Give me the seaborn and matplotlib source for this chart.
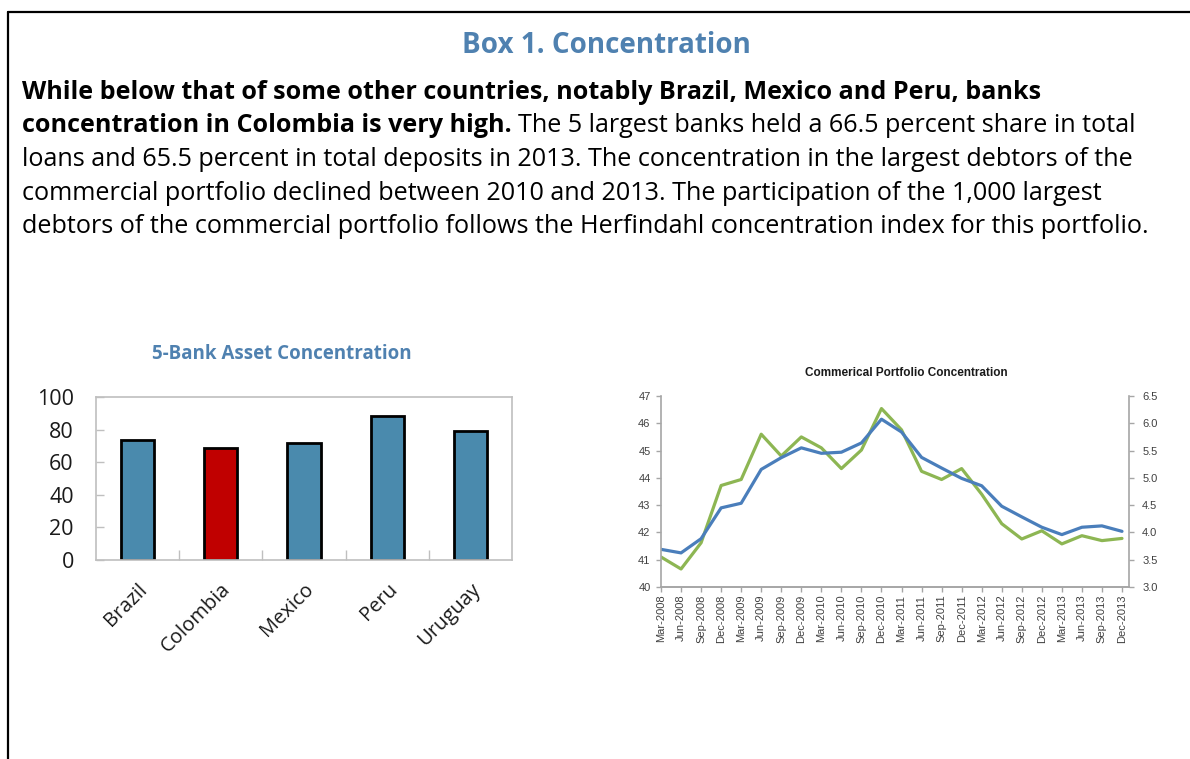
import pandas as pd
import seaborn as sns
import matplotlib.pyplot as plt
from matplotlib.lines import Line2D
from matplotlib.ticker import FormatStrFormatter, FixedLocator

# ------------------------------------------------------------------
# Data
# ------------------------------------------------------------------
countries = ['Brazil', 'Colombia', 'Mexico', 'Peru', 'Uruguay']
bank_conc = [73.6, 68.6, 71.5, 88.5, 79.1]
bar_colors = ['#4a8aad', '#c00000', '#4a8aad', '#4a8aad', '#4a8aad']

quarters = ['Mar-2008', 'Jun-2008', 'Sep-2008', 'Dec-2008',
            'Mar-2009', 'Jun-2009', 'Sep-2009', 'Dec-2009',
            'Mar-2010', 'Jun-2010', 'Sep-2010', 'Dec-2010',
            'Mar-2011', 'Jun-2011', 'Sep-2011', 'Dec-2011',
            'Mar-2012', 'Jun-2012', 'Sep-2012', 'Dec-2012',
            'Mar-2013', 'Jun-2013', 'Sep-2013', 'Dec-2013']
# left axis (blue): participation of the 1,000 largest debtors
top_debtors = [41.38, 41.25, 41.77, 42.90, 43.07, 44.31, 44.74, 45.10,
               44.90, 44.94, 45.28, 46.15, 45.68, 44.75, 44.36, 43.98,
               43.71, 42.96, 42.57, 42.19, 41.92, 42.19, 42.24, 42.04]
# right axis (green): Herfindahl index
herfindahl = [3.55, 3.33, 3.81, 4.86, 4.97, 5.80, 5.40, 5.75,
              5.55, 5.17, 5.51, 6.27, 5.88, 5.12, 4.97, 5.17,
              4.70, 4.16, 3.88, 4.03, 3.79, 3.94, 3.85, 3.89]

title = 'Box 1. Concentration'
para_bold_1 = 'While below that of some other countries, notably Brazil, Mexico and Peru, banks'
para_bold_2 = 'concentration in Colombia is very high.'
para_rest_2 = 'The 5 largest banks held a 66.5 percent share in total'
para_lines = ['loans and 65.5 percent in total deposits in 2013. The concentration in the largest debtors of the',
              'commercial portfolio declined between 2010 and 2013. The participation of the 1,000 largest',
              'debtors of the commercial portfolio follows the Herfindahl concentration index for this portfolio.']

W, H = 1190, 759
sns.set_style('white')
plt.rcParams['font.family'] = ['Open Sans', 'DejaVu Sans']

fig = plt.figure(figsize=(W / 100, H / 100), dpi=100)


def ftext(x, y, s, **kw):
    # x, y in pixels measured from top-left
    return fig.text(x / W, 1 - y / H, s, **kw)


# frame lines of the box
fig.add_artist(Line2D([8 / W, 8 / W], [0, 1 - 12 / H], color='black', lw=1.6,
                      transform=fig.transFigure))
fig.add_artist(Line2D([8 / W, 1], [1 - 12 / H, 1 - 12 / H], color='black', lw=1.6,
                      transform=fig.transFigure))

# ------------------------------------------------------------------
# Header text
# ------------------------------------------------------------------
ftext(606, 53, title, ha='center', va='baseline', fontsize=20,
      weight='bold', color='#4f81b0')

para_size = 18.1
ftext(22, 99, para_bold_1, va='baseline', fontsize=para_size, weight='bold',
      color='black')
t_b = ftext(22, 132, para_bold_2, va='baseline', fontsize=para_size, weight='bold',
            color='black')
fig.canvas.draw()
bb = t_b.get_window_extent()
fig.text((bb.x1 + 6) / W, 1 - 132 / H, para_rest_2, va='baseline',
         fontsize=para_size, color='black')
for i, line in enumerate(para_lines):
    ftext(22, 166 + i * 33.5, line, va='baseline', fontsize=para_size, color='black')

# ------------------------------------------------------------------
# Left panel: 5-bank asset concentration
# ------------------------------------------------------------------
bar_df = pd.DataFrame({'country': countries, 'value': bank_conc})
ax1 = fig.add_axes([96 / W, 1 - 560 / H, 416 / W, 163 / H])
sns.barplot(data=bar_df, x='country', y='value', hue='country',
            palette=dict(zip(countries, bar_colors)), edgecolor='black',
            linewidth=2, width=0.4, legend=False, saturation=1, ax=ax1)
ax1.set_ylim(0, 100)
ax1.set_xlim(-0.5, 4.5)
ax1.set_yticks([0, 20, 40, 60, 80, 100])
ax1.set_xlabel('')
ax1.set_ylabel('')
for s in ax1.spines.values():
    s.set_color('#bfbfbf')
    s.set_linewidth(1.2)
ax1.tick_params(axis='y', direction='in', length=6, width=1, color='#bfbfbf',
                labelsize=15.5, pad=16, labelcolor='#1a1a1a', left=True)
ax1.set_xticks(range(len(countries)))
ax1.set_xticklabels(countries, rotation=45, ha='right', rotation_mode='anchor')
ax1.tick_params(axis='x', length=0, labelsize=14.5, pad=14, labelcolor='#1a1a1a')
ax1.xaxis.set_minor_locator(FixedLocator([0.5, 1.5, 2.5, 3.5]))
ax1.tick_params(axis='x', which='minor', direction='in', length=7, width=1,
                color='#bfbfbf', bottom=True)
ftext(282, 359, '5-Bank Asset Concentration', ha='center', va='baseline',
      fontsize=13.5, weight='bold', color='#4f81b0')

# ------------------------------------------------------------------
# Right panel: commercial portfolio concentration
# ------------------------------------------------------------------
line_df = pd.DataFrame({'pos': range(len(quarters)), 'quarter': quarters,
                        'debtors': top_debtors, 'hhi': herfindahl})
arial = ['Liberation Sans', 'DejaVu Sans']
tick_col = '#404040'
spine_col = '#a6a6a6'

ax2 = fig.add_axes([661 / W, 1 - 587 / H, 468 / W, 191 / H])
ax3 = ax2.twinx()
sns.lineplot(data=line_df, x='pos', y='debtors', color='#4a7ebb', lw=2.3, ax=ax2)
sns.lineplot(data=line_df, x='pos', y='hhi', color='#8db653', lw=2.3, ax=ax3)
ax2.set_zorder(ax3.get_zorder() + 1)
ax2.patch.set_visible(False)

ax2.set_xlim(0, 23.35)
ax2.set_ylim(40, 47)
ax3.set_ylim(3.0, 6.5)
ax2.set_yticks(range(40, 48))
ax3.set_yticks([3.0, 3.5, 4.0, 4.5, 5.0, 5.5, 6.0, 6.5])
ax3.yaxis.set_major_formatter(FormatStrFormatter('%.1f'))
ax2.set_xticks(range(len(quarters)))
ax2.set_xticklabels(quarters, rotation=90, family=arial)
for a in (ax2, ax3):
    a.set_xlabel('')
    a.set_ylabel('')
    a.spines['top'].set_visible(False)
    for s in a.spines.values():
        s.set_color(spine_col)
        s.set_linewidth(1.2)
    a.tick_params(direction='out', length=3.5, width=1, color=spine_col,
                  labelsize=8, labelcolor=tick_col, pad=2)
ax2.spines['right'].set_visible(False)
ax3.spines['left'].set_visible(False)
ax2.tick_params(axis='y', left=True, pad=4)
ax2.tick_params(axis='x', bottom=True)
ax3.tick_params(axis='y', right=True, pad=6)
for lab in ax2.get_yticklabels() + ax3.get_yticklabels():
    lab.set_family(arial)
ftext(906, 376, 'Commerical Portfolio Concentration', ha='center', va='baseline',
      fontsize=8.5, weight='bold', family=arial, color='#1a1a1a')

fig.savefig('out.png', dpi=100)
